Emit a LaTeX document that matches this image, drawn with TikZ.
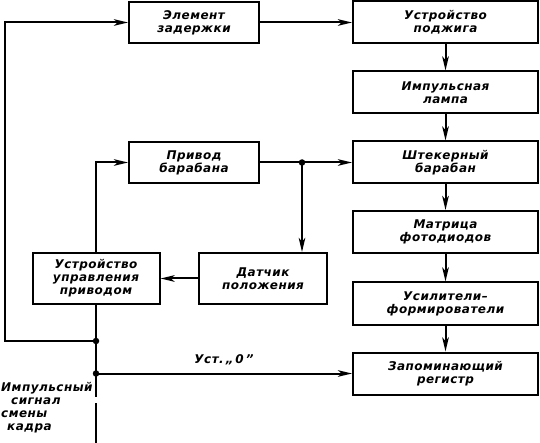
\documentclass[tikz,border=0pt]{standalone}
\usepackage{fontspec}
\setmainfont{DejaVu Sans}[ItalicFont={DejaVu Sans Oblique},
    BoldItalicFont={DejaVu Sans Bold Oblique},LetterSpace=4]
\usetikzlibrary{arrows.meta}

\begin{document}
\begin{tikzpicture}[x=1pt,y=-1pt,
    blok/.style={draw, line width=2pt, inner sep=0pt, align=center,
        font=\fontsize{12}{13}\selectfont\bfseries\itshape},
    shirokij/.style={blok, minimum width=185pt, minimum height=42pt},
    uzkij/.style={blok, minimum width=130pt, minimum height=41pt},
    vysokij/.style={blok, minimum width=127pt, minimum height=51pt},
    svyaz/.style={line width=2pt},
    strelka/.style={svyaz, -{Stealth[length=14pt,width=6.5pt,inset=3.5pt]}},
    tochka/.style={circle, fill, inner sep=0pt, minimum size=6.5pt},
    nadpis/.style={font=\fontsize{12}{13}\selectfont\bfseries\itshape}]

    \useasboundingbox (0,0) rectangle (540,443);

    % boxes, right column
    \node[shirokij] (podzhig)  at (445.5,22.5)  {Устройство\\поджига};
    \node[shirokij] (lampa)    at (445.5,92.5)  {Импульсная\\лампа};
    \node[shirokij] (baraban)  at (445.5,162.5) {Штекерный\\барабан};
    \node[shirokij] (matrica)  at (445.5,232)   {Матрица\\фотодиодов};
    \node[shirokij] (usilitel) at (445.5,303.5) {Усилители–\\формирователи};
    \node[shirokij] (registr)  at (445.5,373.5) {Запоминающий\\регистр};

    % boxes, left part
    \node[uzkij] (zaderzhka) at (194,22.5)  {Элемент\\задержки};
    \node[uzkij] (privod)    at (194,162.5) {Привод\\барабана};
    \node[vysokij, minimum width=128pt] (datchik) at (263,278.5) {Датчик\\положения};
    \node[vysokij] (upravl)  at (96,278.5)  {Устройство\\управления\\приводом};

    % junctions
    \coordinate (uzel)  at (302,162.5);
    \coordinate (vetv)  at (96,341);
    \coordinate (sbros) at (96,373.5);
    \coordinate (ugol)  at (5,341);
    \coordinate (vhod1) at (96,397);
    \coordinate (vhod2) at (96,403);
    \coordinate (niz)   at (96,443);
    \node[tochka] at (uzel) {};
    \node[tochka] at (vetv) {};
    \node[tochka] at (sbros) {};

    % chain
    \draw[strelka] (zaderzhka.east) -- (podzhig.west);
    \draw[strelka] (podzhig.south) -- (lampa.north);
    \draw[strelka] (lampa.south) -- (baraban.north);
    \draw[strelka] (baraban.south) -- (matrica.north);
    \draw[strelka] (matrica.south) -- (usilitel.north);
    \draw[strelka] (usilitel.south) -- (registr.north);

    % drum drive loop
    \draw[strelka] (privod.east) -- (baraban.west);
    \draw[strelka] (uzel) -- (uzel |- datchik.north);
    \draw[strelka] (datchik.west) -- (upravl.east);
    \draw[strelka] (upravl.north) |- (privod.west);

    % frame signal
    \draw[svyaz] (upravl.south) -- (vetv) -- (sbros) -- (vhod1);
    \draw[svyaz] (vhod2) -- (niz);
    \draw[strelka] (vetv) -- (ugol) |- (zaderzhka.west);
    \draw[strelka] (sbros) -- node[nadpis, above=4pt] {Уст.\,„\,0\,”} (registr.west);

    \node[nadpis, align=left, anchor=north west, inner sep=0pt] (signal) at (1,382)
        {Импульсный\\\hspace*{10pt}сигнал\\смены\\\hspace*{6pt}кадра};
\end{tikzpicture}
\end{document}
